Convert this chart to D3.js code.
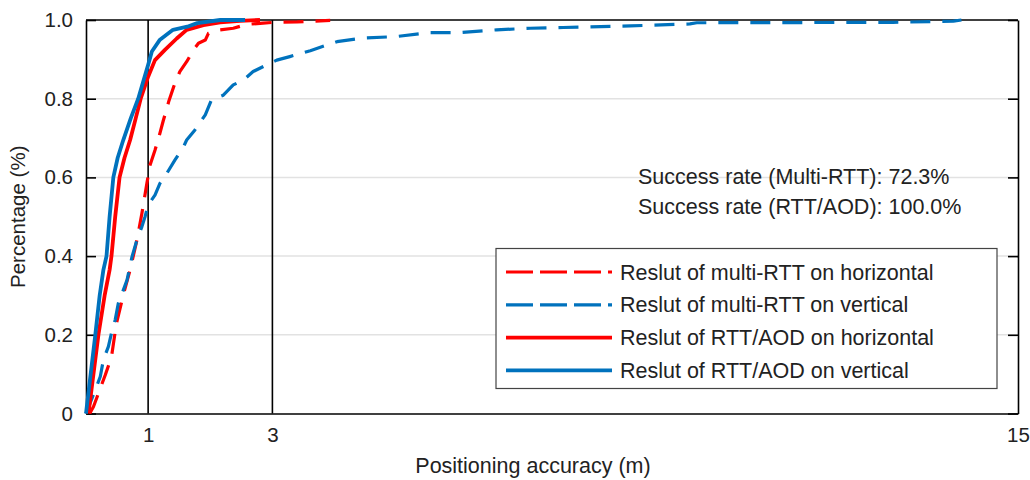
<!DOCTYPE html>
<html>
<head>
<meta charset="utf-8">
<script src="https://cdn.jsdelivr.net/npm/d3@7"></script>
<style>
  body { margin: 0; background: #fff; }
  svg { display: block; font-family: "Liberation Sans", Arial, sans-serif; }
</style>
</head>
<body>
<svg id="chart" width="1030" height="480"></svg>
<script>
// CDF points [error (m), fraction]
const multiRttHoriz = [
  [0.06, 0], [0.12, 0.017], [0.31, 0.098], [0.41, 0.144], [0.49, 0.229], [0.60, 0.301],
  [0.71, 0.365], [0.82, 0.441], [0.90, 0.509], [0.98, 0.585], [1.03, 0.631], [1.11, 0.669],
  [1.16, 0.695], [1.24, 0.742], [1.33, 0.792], [1.41, 0.830], [1.51, 0.869], [1.62, 0.894],
  [1.73, 0.924], [1.81, 0.941], [1.92, 0.949], [1.97, 0.966], [2.16, 0.975], [2.37, 0.979],
  [2.59, 0.989], [2.85, 0.992], [3.02, 0.994], [3.40, 0.995], [3.93, 0.999]
];
const multiRttVert = [
  [0, 0], [0.15, 0.060], [0.23, 0.094], [0.28, 0.136], [0.36, 0.170], [0.41, 0.204],
  [0.47, 0.238], [0.52, 0.280], [0.58, 0.305], [0.66, 0.339], [0.74, 0.398], [0.82, 0.441],
  [0.90, 0.475], [0.95, 0.500], [1.00, 0.530], [1.11, 0.555], [1.19, 0.585], [1.30, 0.610],
  [1.43, 0.644], [1.57, 0.678], [1.62, 0.695], [1.75, 0.720], [1.92, 0.759], [2.02, 0.797],
  [2.21, 0.809], [2.37, 0.835], [2.53, 0.847], [2.69, 0.869], [2.91, 0.886], [3.07, 0.898],
  [3.28, 0.907], [3.61, 0.922], [4.04, 0.945], [4.46, 0.954], [5.00, 0.958], [5.54, 0.968],
  [6.02, 0.968], [6.61, 0.975], [7.15, 0.979], [7.68, 0.981], [8.76, 0.985], [9.72, 0.990],
  [9.83, 0.993], [12.99, 0.994], [13.96, 0.997], [14.09, 1.0]
];
const rttAodHoriz = [
  [0.04, 0], [0.20, 0.2], [0.30, 0.3], [0.38, 0.365], [0.41, 0.4], [0.47, 0.5], [0.54, 0.6],
  [0.62, 0.65], [0.71, 0.695], [0.80, 0.75], [0.88, 0.8], [1.00, 0.856], [1.11, 0.898],
  [1.27, 0.924], [1.46, 0.953], [1.62, 0.975], [1.89, 0.987], [2.16, 0.994], [2.48, 0.998],
  [2.80, 1.0]
];
const rttAodVert = [
  [0, 0], [0.15, 0.2], [0.22, 0.3], [0.28, 0.365], [0.33, 0.4], [0.38, 0.5], [0.44, 0.6],
  [0.51, 0.65], [0.60, 0.695], [0.72, 0.75], [0.84, 0.8], [1.00, 0.886], [1.06, 0.92],
  [1.19, 0.95], [1.40, 0.975], [1.63, 0.983], [1.79, 0.992], [2.16, 1.0], [2.56, 1.0]
];

const xTicks = [1, 3, 15];
const yTicks = [0, 0.2, 0.4, 0.6, 0.8, 1.0];
const yTickLabels = ['0', '0.2', '0.4', '0.6', '0.8', '1.0'];
const seriesNames = [
  'Reslut of multi-RTT on horizontal',
  'Reslut of multi-RTT on vertical',
  'Reslut of RTT/AOD on horizontal',
  'Reslut of RTT/AOD on vertical'
];
const notes = ['Success rate (Multi-RTT): 72.3%', 'Success rate (RTT/AOD): 100.0%'];

const red = '#ff0000';
const blue = '#0072bd';
const series = [
  {name: seriesNames[0], data: multiRttHoriz, color: red, dash: '20,12', width: 3.2},
  {name: seriesNames[1], data: multiRttVert, color: blue, dash: '20,12', width: 3.2},
  {name: seriesNames[2], data: rttAodHoriz, color: red, dash: null, width: 3.8},
  {name: seriesNames[3], data: rttAodVert, color: blue, dash: null, width: 3.8}
];

const svg = d3.select('#chart');
const plotL = 86, plotR = 1018, plotT = 20, plotB = 413.5;

const x = d3.scaleLinear().domain([0, 15]).range([plotL, plotR]);
const y = d3.scaleLinear().domain([0, 1]).range([plotB, plotT]);

// grid
svg.append('g')
  .selectAll('line')
  .data(yTicks.slice(1, -1))
  .join('line')
  .attr('x1', plotL).attr('x2', plotR)
  .attr('y1', (d) => y(d)).attr('y2', (d) => y(d))
  .attr('stroke', '#e2e2e2')
  .attr('stroke-width', 1.5);

// vertical reference lines at 1 m and 3 m
svg.append('g')
  .selectAll('line')
  .data(xTicks.slice(0, 2))
  .join('line')
  .attr('x1', (d) => x(d)).attr('x2', (d) => x(d))
  .attr('y1', plotT).attr('y2', plotB)
  .attr('stroke', '#000')
  .attr('stroke-width', 1.6);

// axes
const yAxisL = d3.axisLeft(y).tickValues(yTicks).tickFormat((d, i) => yTickLabels[i]).tickSizeInner(-10).tickSizeOuter(0).tickPadding(13);
const yAxisR = d3.axisRight(y).tickValues(yTicks).tickFormat('').tickSizeInner(-10).tickSizeOuter(0);
const xAxis = d3.axisBottom(x).tickValues(xTicks).tickSizeInner(0).tickSizeOuter(0).tickPadding(14);

function styleAxis(g) {
  g.select('.domain').attr('stroke', '#000').attr('stroke-width', 1.6);
  g.selectAll('.tick line').attr('stroke', '#000').attr('stroke-width', 1.6);
  g.selectAll('.tick text').attr('fill', '#222').style('font-size', '20.5px');
  g.attr('font-family', null).attr('font-size', null);
}

svg.append('g').attr('transform', `translate(${plotL},0)`).call(yAxisL).call(styleAxis);
svg.append('g').attr('transform', `translate(${plotR},0)`).call(yAxisR).call(styleAxis);
svg.append('g').attr('transform', `translate(0,${plotB})`).call(xAxis).call(styleAxis);
svg.append('line')
  .attr('x1', plotL).attr('x2', plotR).attr('y1', plotT).attr('y2', plotT)
  .attr('stroke', '#000').attr('stroke-width', 1.6);

// curves
const line = d3.line().x((d) => x(d[0])).y((d) => y(d[1]));
svg.append('g')
  .selectAll('path')
  .data(series)
  .join('path')
  .attr('d', (d) => line(d.data))
  .attr('fill', 'none')
  .attr('stroke', (d) => d.color)
  .attr('stroke-width', (d) => d.width)
  .attr('stroke-dasharray', (d) => d.dash)
  .attr('stroke-linejoin', 'round');

// axis titles
svg.append('text')
  .attr('x', 533).attr('y', 473)
  .attr('text-anchor', 'middle')
  .attr('fill', '#222')
  .style('font-size', '21.5px')
  .text('Positioning accuracy (m)');
svg.append('text')
  .attr('transform', `translate(25,${(plotT + plotB) / 2}) rotate(-90)`)
  .attr('text-anchor', 'middle')
  .attr('fill', '#222')
  .style('font-size', '20.5px')
  .text('Percentage (%)');

// success rate notes
svg.append('g')
  .selectAll('text')
  .data(notes)
  .join('text')
  .attr('x', 638).attr('y', (d, i) => 184 + i * 30)
  .attr('fill', '#222')
  .style('font-size', '21.5px')
  .text((d) => d);

// legend
const legend = svg.append('g');
legend.append('rect')
  .attr('x', 496).attr('y', 248.5).attr('width', 501).attr('height', 140)
  .attr('fill', '#fff')
  .attr('stroke', '#444')
  .attr('stroke-width', 1.2);
const items = legend.selectAll('g.item')
  .data(series)
  .join('g')
  .attr('class', 'item')
  .attr('transform', (d, i) => `translate(0,${272 + i * 32.8})`);
items.append('line')
  .attr('x1', 506).attr('x2', 612)
  .attr('stroke', (d) => d.color)
  .attr('stroke-width', (d) => d.width)
  .attr('stroke-dasharray', (d) => (d.dash ? '27,7' : null));
items.append('text')
  .attr('x', 620).attr('y', 7.5)
  .attr('fill', '#222')
  .style('font-size', '21.5px')
  .text((d) => d.name);
</script>
</body>
</html>
